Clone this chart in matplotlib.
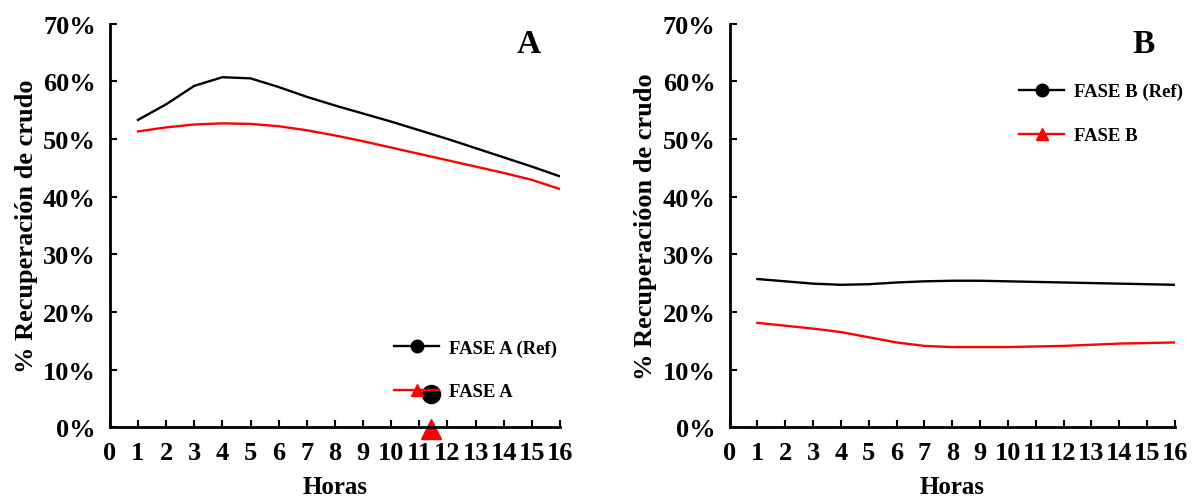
import matplotlib
matplotlib.use("Agg")
import matplotlib.pyplot as plt
from matplotlib.ticker import PercentFormatter

plt.rcParams["font.family"] = ["Liberation Serif", "DejaVu Serif"]
plt.rcParams["font.weight"] = "bold"

horas = list(range(1, 17))

# Panel A
fase_a_ref = [0.533, 0.560, 0.592, 0.607, 0.605, 0.590, 0.573, 0.558, 0.544, 0.530,
              0.515, 0.500, 0.484, 0.468, 0.452, 0.435]
fase_a = [0.513, 0.520, 0.525, 0.527, 0.526, 0.522, 0.515, 0.506, 0.496, 0.485,
          0.474, 0.463, 0.452, 0.441, 0.429, 0.413]
# stray markers left in the original figure
stray_x = 11.4
stray_ref_y = 0.057
stray_y = -0.003

# Panel B
fase_b_ref = [0.257, 0.253, 0.249, 0.247, 0.248, 0.251, 0.253, 0.254, 0.254, 0.253,
              0.252, 0.251, 0.250, 0.249, 0.248, 0.247]
fase_b = [0.181, 0.176, 0.171, 0.165, 0.156, 0.147, 0.141, 0.139, 0.139, 0.139,
          0.140, 0.141, 0.143, 0.145, 0.146, 0.147]

fig = plt.figure(figsize=(11.94, 5.02), dpi=100)
ax_a = fig.add_axes([0.092, 0.147, 0.377, 0.804])
ax_b = fig.add_axes([0.611, 0.147, 0.373, 0.804])


def style(ax, ylabel, letter):
    ax.set_xlim(0, 16)
    ax.set_ylim(0, 0.7)
    ax.set_xticks(range(0, 17))
    ax.set_yticks([i / 10 for i in range(8)])
    ax.yaxis.set_major_formatter(PercentFormatter(1.0, decimals=0))
    ax.tick_params(direction="in", length=5, width=1.5, labelsize=19, pad=10)
    ax.tick_params(axis="y", pad=10)
    ax.spines[["top", "right"]].set_visible(False)
    ax.spines[["left", "bottom"]].set_linewidth(2)
    for lab in ax.get_xticklabels() + ax.get_yticklabels():
        lab.set_fontweight("bold")
    ax.set_xlabel("Horas", fontsize=18, fontweight="bold", labelpad=8)
    ax.set_ylabel(ylabel, fontsize=19, fontweight="bold", labelpad=4)
    ax.text(0.93, 0.95, letter, transform=ax.transAxes, fontsize=24,
            fontweight="bold", ha="center", va="center")


ax_a.plot(horas, fase_a_ref, color="black", lw=1.7)
ax_a.plot(horas, fase_a, color="red", lw=1.7)
ax_a.plot([stray_x], [stray_ref_y], "o", color="black", ms=13, clip_on=False)
ax_a.plot([stray_x], [stray_y], "^", color="red", ms=15, clip_on=False)
h1, = ax_a.plot([], [], color="black", marker="o", ms=9, lw=1.7, label="FASE A (Ref)")
h2, = ax_a.plot([], [], color="red", marker="^", ms=9, lw=1.7, label="FASE A")
style(ax_a, "% Recuperación de crudo", "A")
ax_a.legend(handles=[h1, h2], loc="lower right", bbox_to_anchor=(1.03, 0.025),
            frameon=False, prop={"weight": "bold", "size": 13.5},
            labelspacing=1.4, handlelength=2.4, handletextpad=0.5)

ax_b.plot(horas, fase_b_ref, color="black", lw=1.7)
ax_b.plot(horas, fase_b, color="red", lw=1.7)
g1, = ax_b.plot([], [], color="black", marker="o", ms=9, lw=1.7, label="FASE B (Ref)")
g2, = ax_b.plot([], [], color="red", marker="^", ms=9, lw=1.7, label="FASE B")
style(ax_b, "% Recuperacióon de crudo", "B")
ax_b.legend(handles=[g1, g2], loc="upper right", bbox_to_anchor=(1.055, 0.895),
            frameon=False, prop={"weight": "bold", "size": 13.5},
            labelspacing=1.45, handlelength=2.4, handletextpad=0.5)

fig.savefig("out.png", dpi=100)
